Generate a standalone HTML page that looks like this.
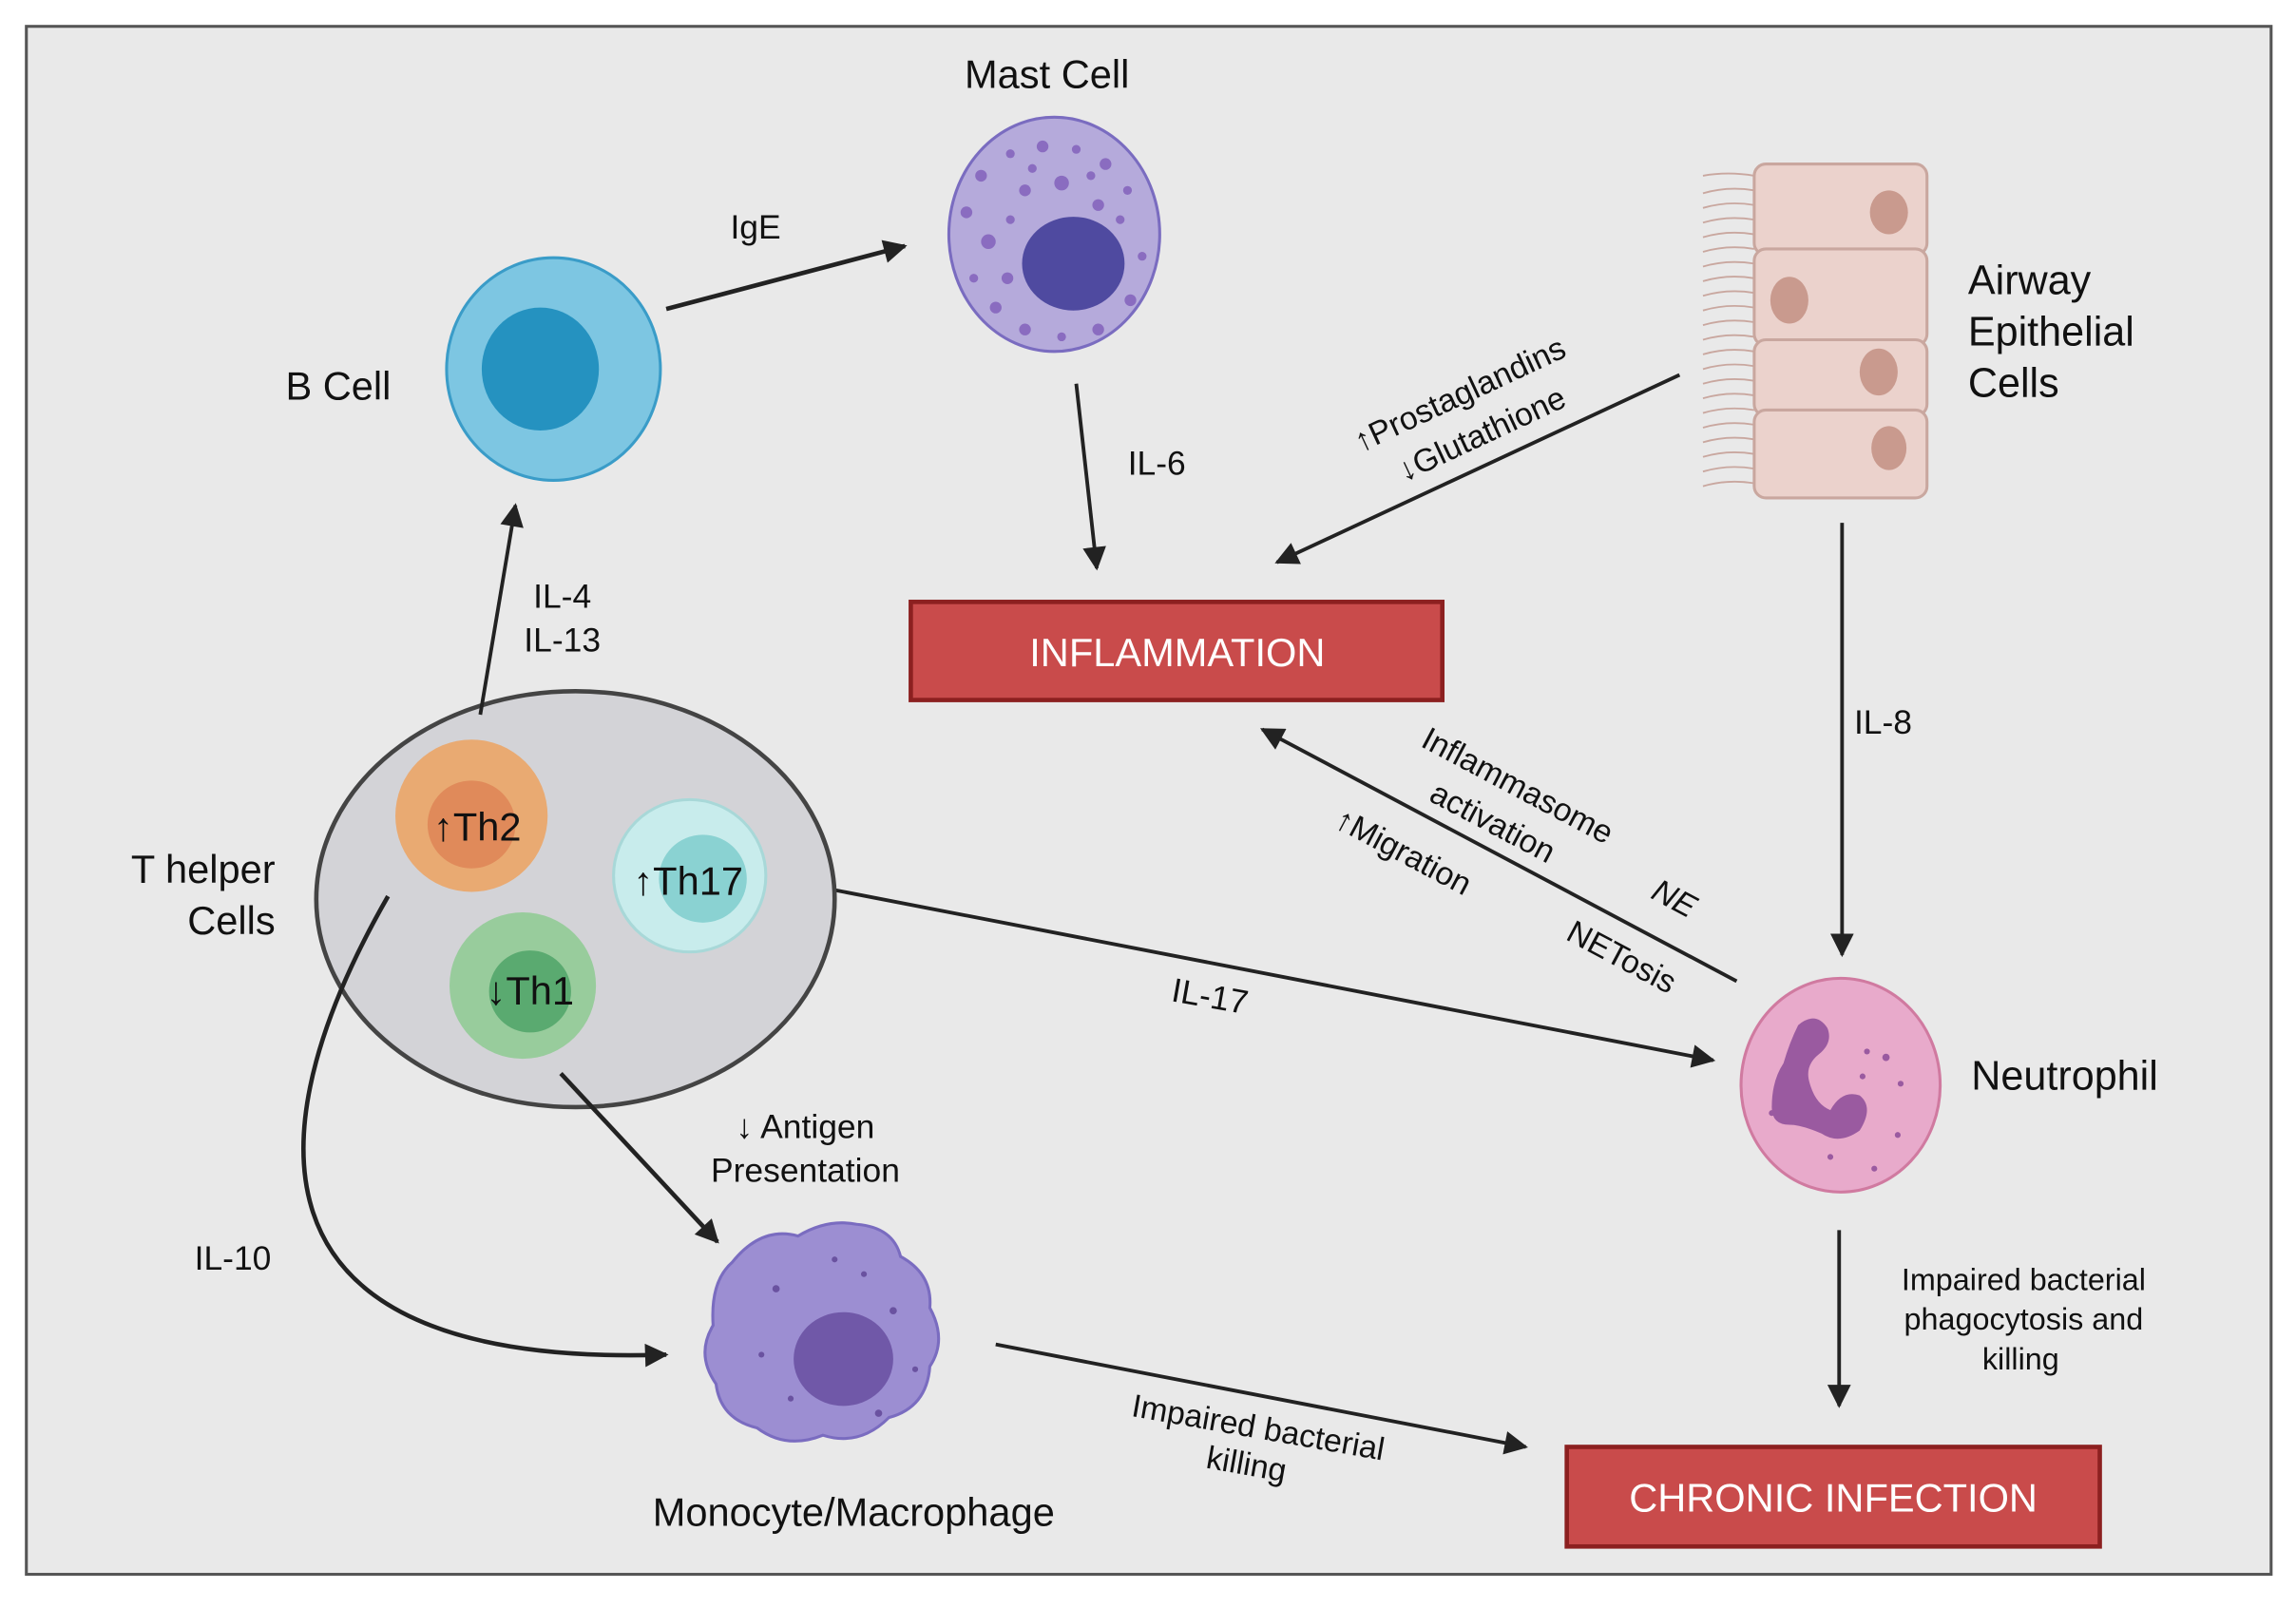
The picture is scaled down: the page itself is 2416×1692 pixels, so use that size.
<!DOCTYPE html>
<html><head><meta charset="utf-8"><style>
html,body{margin:0;padding:0;background:#fff;}
svg{display:block;}
text{font-family:"Liberation Sans",sans-serif;fill:#111;}
</style></head><body>
<svg width="2416" height="1692" viewBox="0 0 1568 1098" preserveAspectRatio="none" xmlns="http://www.w3.org/2000/svg">
<defs>
<marker id="ah" viewBox="0 0 10 10" refX="9" refY="5" markerWidth="6" markerHeight="6" orient="auto" markerUnits="userSpaceOnUse">
<path d="M0,0 L10,5 L0,10 z" fill="#222"/></marker>
<marker id="a" viewBox="0 0 10 10" refX="9" refY="5" markerWidth="18" markerHeight="16" orient="auto" markerUnits="userSpaceOnUse"><path d="M0,0 L10,5 L0,10 z" fill="#222"/></marker>
</defs>
<rect x="18" y="18" width="1533" height="1057" fill="#e9e9e9" stroke="#555" stroke-width="2"/>

<!-- Mast cell -->
<text x="715" y="60" font-size="27" text-anchor="middle">Mast Cell</text>
<ellipse cx="720" cy="160" rx="72" ry="80" fill="#b5aadb" stroke="#7a6cc0" stroke-width="2"/>
<g fill="#8a6cc0">
<circle cx="670" cy="120" r="4"/><circle cx="690" cy="105" r="3"/><circle cx="712" cy="100" r="4"/><circle cx="735" cy="102" r="3"/><circle cx="755" cy="112" r="4"/><circle cx="770" cy="130" r="3"/><circle cx="660" cy="145" r="4"/><circle cx="675" cy="165" r="5"/><circle cx="665" cy="190" r="3"/><circle cx="680" cy="210" r="4"/><circle cx="700" cy="225" r="4"/><circle cx="725" cy="230" r="3"/><circle cx="750" cy="225" r="4"/><circle cx="772" cy="205" r="4"/><circle cx="780" cy="175" r="3"/><circle cx="700" cy="130" r="4"/><circle cx="725" cy="125" r="5"/><circle cx="750" cy="140" r="4"/><circle cx="690" cy="150" r="3"/><circle cx="688" cy="190" r="4"/><circle cx="705" cy="115" r="3"/><circle cx="745" cy="120" r="3"/><circle cx="765" cy="150" r="3"/></g>
<ellipse cx="733" cy="180" rx="35" ry="32" fill="#4f4aa0"/>

<!-- B cell -->
<text x="231" y="273" font-size="27" text-anchor="middle">B Cell</text>
<ellipse cx="378" cy="252" rx="73" ry="76" fill="#7dc6e2" stroke="#3a9cc8" stroke-width="2"/>
<ellipse cx="369" cy="252" rx="40" ry="42" fill="#2592c0"/>

<!-- IgE -->
<line x1="455" y1="211" x2="618" y2="168" stroke="#222" stroke-width="3" marker-end="url(#a)"/>
<text x="516" y="163" font-size="23" text-anchor="middle">IgE</text>

<!-- IL-6 -->
<line x1="735" y1="262" x2="749" y2="388" stroke="#222" stroke-width="2.5" marker-end="url(#a)"/>
<text x="790" y="324" font-size="23" text-anchor="middle">IL-6</text>

<!-- Inflammation -->
<rect x="622" y="411" width="363" height="67" fill="#c94b4b" stroke="#8c2020" stroke-width="3"/>
<text x="804" y="455" font-size="27" text-anchor="middle" style="fill:#fff">INFLAMMATION</text>

<!-- Airway epithelial -->
<g stroke="#c9a79f" stroke-width="1.2" fill="none">
<path d="M1198,120 q-18,-3 -35,0"/><path d="M1198,130 q-18,-3 -35,2"/><path d="M1198,140 q-18,-3 -35,2"/><path d="M1198,150 q-18,-3 -35,2"/><path d="M1198,160 q-18,-3 -35,2"/><path d="M1198,170 q-18,-3 -35,2"/><path d="M1198,180 q-18,-3 -35,2"/><path d="M1198,190 q-18,-3 -35,2"/><path d="M1198,200 q-18,-3 -35,2"/><path d="M1198,210 q-18,-3 -35,2"/><path d="M1198,220 q-18,-3 -35,2"/><path d="M1198,230 q-18,-3 -35,2"/><path d="M1198,240 q-18,-3 -35,2"/><path d="M1198,250 q-18,-3 -35,2"/><path d="M1198,260 q-18,-3 -35,2"/><path d="M1198,270 q-18,-3 -35,2"/><path d="M1198,280 q-18,-3 -35,2"/><path d="M1198,290 q-18,-3 -35,2"/><path d="M1198,300 q-18,-3 -35,2"/><path d="M1198,310 q-18,-3 -35,2"/><path d="M1198,320 q-18,-3 -35,2"/><path d="M1198,330 q-18,-3 -35,2"/>
</g>
<g fill="#ebd2cc" stroke="#c9a79f" stroke-width="2">
<rect x="1198" y="112" width="118" height="62" rx="8"/>
<rect x="1198" y="170" width="118" height="66" rx="8"/>
<rect x="1198" y="232" width="118" height="52" rx="8"/>
<rect x="1198" y="280" width="118" height="60" rx="8"/>
</g>
<g fill="#c99a8e">
<ellipse cx="1290" cy="145" rx="13" ry="15"/><ellipse cx="1222" cy="205" rx="13" ry="16"/><ellipse cx="1283" cy="254" rx="13" ry="16"/><ellipse cx="1290" cy="306" rx="12" ry="15"/></g>
<text x="1344" y="201" font-size="28">Airway</text>
<text x="1344" y="236" font-size="28">Epithelial</text>
<text x="1344" y="271" font-size="28">Cells</text>

<!-- Prostaglandins -->
<line x1="1147" y1="256" x2="872" y2="384" stroke="#222" stroke-width="2.5" marker-end="url(#a)"/>
<text transform="translate(1000,276) rotate(-25)" font-size="22" text-anchor="middle">↑Prostaglandins</text>
<text transform="translate(1015,303) rotate(-25)" font-size="22" text-anchor="middle">↓Glutathione</text>

<!-- IL-8 -->
<line x1="1258" y1="357" x2="1258" y2="652" stroke="#222" stroke-width="2.5" marker-end="url(#a)"/>
<text x="1286" y="501" font-size="23" text-anchor="middle">IL-8</text>

<!-- Neutrophil -->
<ellipse cx="1257" cy="741" rx="68" ry="73" fill="#e8aacb" stroke="#d07aa0" stroke-width="2"/>
<path d="M1228,700 q12,-10 20,2 q4,10 -6,18 q-10,8 -6,20 q4,14 14,18 q8,-14 20,-10 q10,8 0,24 q-14,10 -26,2 q-14,-6 -22,-6 q-12,0 -12,-12 q0,-18 8,-30 q4,-14 10,-26 z" fill="#9a5aa0"/>
<g fill="#9a5aa0"><circle cx="1275" cy="718" r="2"/><circle cx="1288" cy="722" r="2.5"/><circle cx="1298" cy="740" r="2"/><circle cx="1272" cy="735" r="2"/><circle cx="1210" cy="760" r="2"/><circle cx="1296" cy="775" r="2"/><circle cx="1250" cy="790" r="2"/><circle cx="1280" cy="798" r="2"/></g>
<text x="1410" y="744" font-size="28" text-anchor="middle">Neutrophil</text>

<!-- Neutrophil -> inflammation -->
<line x1="1186" y1="670" x2="862" y2="498" stroke="#222" stroke-width="2.5" marker-end="url(#a)"/>
<text transform="translate(1033,543) rotate(28)" font-size="22" text-anchor="middle">Inflammasome</text>
<text transform="translate(1016,568) rotate(28)" font-size="22" text-anchor="middle">activation</text>
<text transform="translate(955,588) rotate(28)" font-size="22" text-anchor="middle">↑Migration</text>
<text transform="translate(1140,620) rotate(28)" font-size="22" text-anchor="middle" font-style="italic">NE</text>
<text transform="translate(1104,660) rotate(28)" font-size="22" text-anchor="middle">NETosis</text>

<!-- IL-17 -->
<line x1="530" y1="600" x2="1170" y2="724" stroke="#222" stroke-width="2.5" marker-end="url(#a)"/>
<text transform="translate(825,688) rotate(10)" font-size="23" text-anchor="middle">IL-17</text>

<!-- T helper -->
<ellipse cx="393" cy="614" rx="177" ry="142" fill="#d3d3d7" stroke="#444" stroke-width="3"/>
<circle cx="322" cy="557" r="52" fill="#e9aa72"/><circle cx="322" cy="563" r="30" fill="#e08a5a"/>
<text x="326" y="574" font-size="27" text-anchor="middle">↑Th2</text>
<circle cx="471" cy="598" r="52" fill="#c8ecec" stroke="#a8d8d8" stroke-width="2"/><circle cx="480" cy="600" r="30" fill="#8ad2d2"/>
<text x="470" y="611" font-size="27" text-anchor="middle">↑Th17</text>
<circle cx="357" cy="673" r="50" fill="#98cc9c"/><circle cx="362" cy="677" r="28" fill="#5aaa70"/>
<text x="362" y="686" font-size="27" text-anchor="middle">↓Th1</text>
<text x="188" y="603" font-size="27" text-anchor="end">T helper</text>
<text x="188" y="638" font-size="27" text-anchor="end">Cells</text>

<!-- IL-4 / IL-13 -->
<line x1="328" y1="488" x2="352" y2="345" stroke="#222" stroke-width="2.5" marker-end="url(#a)"/>
<text x="384" y="415" font-size="23" text-anchor="middle">IL-4</text>
<text x="384" y="445" font-size="23" text-anchor="middle">IL-13</text>

<!-- Antigen presentation -->
<line x1="383" y1="733" x2="490" y2="848" stroke="#222" stroke-width="3" marker-end="url(#a)"/>
<text x="550" y="777" font-size="23" text-anchor="middle">↓ Antigen</text>
<text x="550" y="807" font-size="23" text-anchor="middle">Presentation</text>

<!-- IL-10 -->
<path d="M265,612 C180,760 150,935 455,925" fill="none" stroke="#222" stroke-width="3" marker-end="url(#a)"/>
<text x="159" y="867" font-size="23" text-anchor="middle">IL-10</text>

<!-- Macrophage -->
<path d="M500,862 q20,-25 45,-18 q20,-12 40,-8 q25,2 30,22 q22,12 20,35 q12,22 0,40 q-2,28 -28,35 q-20,20 -45,12 q-25,10 -45,-5 q-25,-6 -28,-30 q-14,-20 -2,-40 q-2,-30 13,-43 z" fill="#9c8ed2" stroke="#7a6cc0" stroke-width="2"/>
<ellipse cx="576" cy="928" rx="34" ry="32" fill="#7058a8"/>
<g fill="#6a52a0"><circle cx="530" cy="880" r="2.5"/><circle cx="590" cy="870" r="2"/><circle cx="610" cy="895" r="2.5"/><circle cx="520" cy="925" r="2"/><circle cx="540" cy="955" r="2"/><circle cx="600" cy="965" r="2.5"/><circle cx="625" cy="935" r="2"/><circle cx="570" cy="860" r="2"/></g>
<text x="583" y="1042" font-size="27" text-anchor="middle">Monocyte/Macrophage</text>

<!-- Macrophage -> chronic infection -->
<line x1="680" y1="918" x2="1042" y2="988" stroke="#222" stroke-width="2.5" marker-end="url(#a)"/>
<text transform="translate(858,982) rotate(10)" font-size="22" text-anchor="middle">Impaired bacterial</text>
<text transform="translate(850,1007) rotate(10)" font-size="22" text-anchor="middle">killing</text>

<!-- Neutrophil -> chronic infection -->
<line x1="1256" y1="840" x2="1256" y2="960" stroke="#222" stroke-width="2.5" marker-end="url(#a)"/>
<text x="1382" y="881" font-size="21" text-anchor="middle">Impaired bacterial</text>
<text x="1382" y="908" font-size="21" text-anchor="middle">phagocytosis and</text>
<text x="1380" y="935" font-size="21" text-anchor="middle">killing</text>

<rect x="1070" y="988" width="364" height="68" fill="#c94b4b" stroke="#8c2020" stroke-width="3"/>
<text x="1252" y="1032" font-size="27" text-anchor="middle" style="fill:#fff">CHRONIC INFECTION</text>
</svg>
</body></html>
